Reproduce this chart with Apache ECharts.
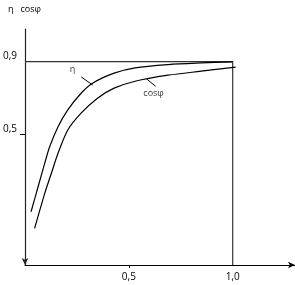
<!DOCTYPE html>
<html>
<head>
<meta charset="utf-8">
<script src="https://cdn.jsdelivr.net/npm/echarts@6/dist/echarts.min.js"></script>
<style>html,body{margin:0;padding:0;background:#fff}#c{width:295px;height:285px}</style>
</head>
<body>
<div id="c"></div>
<script>
// η curve
const etaX = [0.029, 0.063, 0.095, 0.119, 0.159, 0.206, 0.27, 0.325, 0.429, 0.53, 0.689, 0.848, 1.0];
const etaY = [0.078, 0.215, 0.344, 0.435, 0.544, 0.636, 0.727, 0.782, 0.837, 0.866, 0.884, 0.893, 0.899];
// cosφ curve
const cosX = [0.046, 0.095, 0.127, 0.159, 0.206, 0.27, 0.349, 0.429, 0.53, 0.689, 0.848, 1.014];
const cosY = [-0.013, 0.179, 0.289, 0.398, 0.526, 0.618, 0.7, 0.755, 0.793, 0.826, 0.848, 0.87];
// tick labels
const xTickValues = [0.5, 1.0];
const yTickLabels = [0.5, 0.9];
const yTickMarks = [0.5];
// rated point frame (x = 1.0, y = 0.9)
const ratedX = 1.0;
const ratedY = 0.9;
// curve name labels and their leader lines
const labelNames = ['η', 'cosφ'];
const labelX = [0.229, 0.619];
const labelY = [0.855, 0.727];
const leaderEta = [[0.271, 0.816], [0.326, 0.772]];
const leaderCos = [[0.586, 0.805], [0.629, 0.765]];

const X_MIN = 0, X_MAX = 1.3, Y_MIN = -0.2137, Y_MAX = 1.079;
const fmt = v => Number(v).toFixed(1).replace('.', ',');
const FONT = 'Open Sans';

const chart = echarts.init(document.getElementById('c'), null, {renderer: 'canvas'});
const black = '#000';
chart.setOption({
  animation: false,
  title: {
    text: 'η   cosφ', left: 3, top: 0,
    textStyle: {fontSize: 9, fontWeight: 'normal', color: black, fontFamily: FONT}
  },
  grid: {left: 22, right: 0, top: 29, bottom: 20, containLabel: false},
  xAxis: {
    type: 'value', min: X_MIN, max: X_MAX,
    axisLine: {onZero: false, lineStyle: {color: black, width: 1}, symbol: ['none', 'arrow'], symbolSize: [5, 7]},
    axisTick: {customValues: [xTickValues[0]], length: 3, lineStyle: {color: black}},
    axisLabel: {customValues: xTickValues, formatter: fmt, fontSize: 10, color: black, fontFamily: FONT, margin: 7},
    splitLine: {show: false}
  },
  yAxis: {
    type: 'value', min: Y_MIN, max: Y_MAX,
    axisLine: {show: true, onZero: false, lineStyle: {color: '#222', width: 1.2}, symbol: ['arrow', 'none'], symbolSize: [5, 7]},
    axisTick: {customValues: yTickMarks, length: 5, lineStyle: {color: black}},
    axisLabel: {customValues: yTickLabels, formatter: fmt, fontSize: 10, color: black, fontFamily: FONT, margin: 8, verticalAlign: 'bottom', padding: [0, 0, 1, 0]},
    splitLine: {show: false}
  },
  series: [
    {
      type: 'line', data: [[X_MIN, ratedY], [ratedX, ratedY], [ratedX, Y_MIN]],
      symbol: 'none', lineStyle: {color: '#333', width: 1.2}, silent: true
    },
    {
      name: 'η', type: 'line', smooth: 0.3, symbol: 'none',
      data: etaX.map((x, i) => [x, etaY[i]]),
      lineStyle: {color: black, width: 1.2}
    },
    {
      name: 'cosφ', type: 'line', smooth: 0.3, symbol: 'none',
      data: cosX.map((x, i) => [x, cosY[i]]),
      lineStyle: {color: black, width: 1.2}
    },
    {
      type: 'line', data: leaderEta, symbol: 'none', lineStyle: {color: black, width: 1}
    },
    {
      type: 'line', data: leaderCos, symbol: 'none', lineStyle: {color: black, width: 1}
    },
    {
      type: 'scatter', symbolSize: 0,
      data: labelNames.map((n, i) => ({value: [labelX[i], labelY[i]], name: n})),
      label: {show: true, position: 'inside', formatter: p => p.name, fontSize: 9, color: black, fontFamily: FONT}
    }
  ]
});
</script>
</body>
</html>
